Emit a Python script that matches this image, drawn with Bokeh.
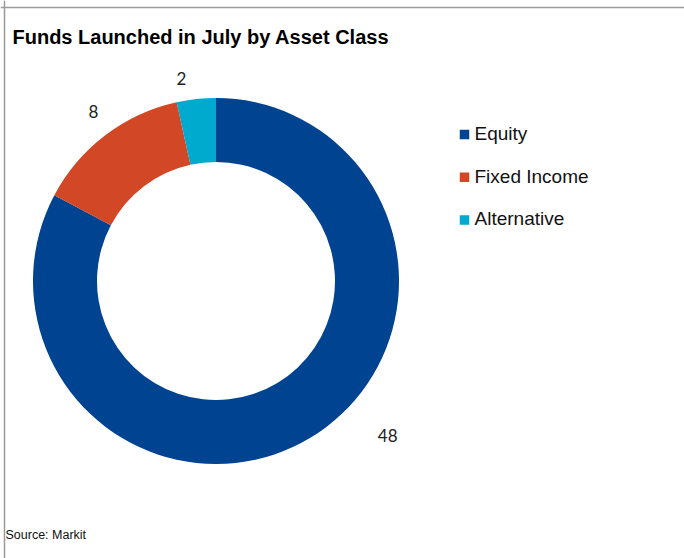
import math
from bokeh.plotting import figure
from bokeh.models import ColumnDataSource, Range1d, Span
from bokeh.core.properties import value
from bokeh.embed import file_html
from bokeh.resources import INLINE

# ---- data ----
categories = ["Equity", "Fixed Income", "Alternative"]
values = [48, 8, 2]
colors = ["#004491", "#D24726", "#00A9CE"]
title_text = "Funds Launched in July by Asset Class"
source_text = "Source: Markit"

# ---- layout (page pixel coordinates) ----
W, H = 684, 558
cx, cy = 215.5, 280.5
r_out, r_in = 183, 119
# label placement: (angle clockwise from 12 o'clock in degrees, radius px)
label_polar = [(132.0, 231.0), (-35.9, 209.0), (-9.7, 205.0)]
legend_x = 464
legend_y0 = 134
legend_dy = 42.7


def Y(py):
    return H - py


total = float(sum(values))
starts, ends = [], []
acc = 0.0
for v in values:
    starts.append(math.pi / 2 - acc / total * 2 * math.pi)
    acc += v
    ends.append(math.pi / 2 - acc / total * 2 * math.pi)

src = ColumnDataSource(dict(cat=categories, val=values, color=colors,
                            start=starts, end=ends))

p = figure(width=W, height=H, output_backend="svg", toolbar_location=None,
           x_range=Range1d(0, W), y_range=Range1d(0, H),
           min_border=0, outline_line_color=None, background_fill_color="white",
           border_fill_color="white")
p.axis.visible = False
p.grid.visible = False

# frame lines
p.add_layout(Span(location=Y(7), dimension="width", line_color="#9A9A9A", line_width=1.5))
p.add_layout(Span(location=4, dimension="height", line_color="#9A9A9A", line_width=1.5))

# donut
p.annular_wedge(x=cx, y=Y(cy), inner_radius=r_in, outer_radius=r_out,
                start_angle="start", end_angle="end", direction="clock",
                fill_color="color", line_color=None, source=src)

# data labels
lx, ly, lt = [], [], []
for (ang, rad), v in zip(label_polar, values):
    a = math.radians(ang)
    lx.append(cx + rad * math.sin(a))
    ly.append(Y(cy - rad * math.cos(a)))
    lt.append(str(v))
p.text(x=lx, y=ly, text=lt, text_font=value("Lato"), text_font_size="17px",
       text_color="#222222", text_align="center", text_baseline="middle")

# legend
leg_y = [Y(legend_y0 + i * legend_dy) for i in range(len(categories))]
p.rect(x=[legend_x] * len(categories), y=leg_y, width=9.5, height=9.5,
       fill_color=colors, line_color=None)
p.text(x=[legend_x + 10] * len(categories), y=[y + 1 for y in leg_y], text=categories,
       text_font=value("Liberation Sans"), text_font_size="19px", text_color="#111111",
       text_align="left", text_baseline="middle")

# title
p.text(x=[12], y=[Y(36.5)], text=[title_text], text_font=value("Liberation Sans"),
       text_font_size="20px", text_font_style="bold", text_color="#000000",
       text_align="left", text_baseline="middle")

# source
p.text(x=[5], y=[Y(534)], text=[source_text], text_font=value("Liberation Sans"),
       text_font_size="12.5px", text_color="#111111",
       text_align="left", text_baseline="middle")

open("out.html", "w").write(file_html(p, INLINE))
